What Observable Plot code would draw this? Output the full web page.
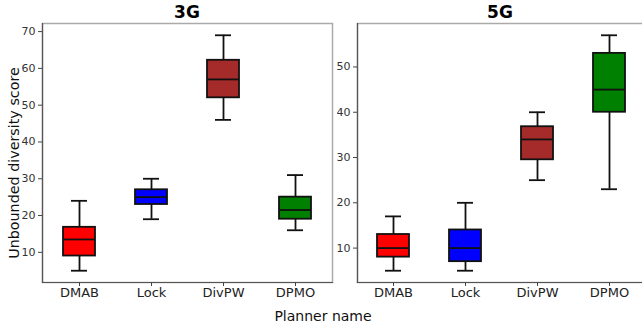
<!DOCTYPE html>
<html>
<head>
<meta charset="utf-8">
<script src="https://cdn.jsdelivr.net/npm/d3@7"></script>
<script src="https://cdn.jsdelivr.net/npm/@observablehq/plot@0.6"></script>
<style>
  html, body { margin: 0; padding: 0; background: #fff; }
  #wrap { position: relative; width: 642px; height: 331px; overflow: hidden; font-family: "DejaVu Sans", sans-serif; background: #fff; }
  .plot { position: absolute; top: 0; }
  .title { position: absolute; top: 2px; font-weight: bold; font-size: 17px; color: #000; transform: translateX(-50%); }
  .xlabel { position: absolute; top: 308px; left: 323px; font-size: 14px; transform: translateX(-50%); color: #111; }
  .ylabel { position: absolute; left: 14px; top: 163px; font-size: 14.3px; color: #111; transform: translate(-50%, -50%) rotate(-90deg); white-space: nowrap; }
</style>
</head>
<body>
<div id="wrap">
  <div class="title" style="left:187px">3G</div>
  <div class="title" style="left:500px">5G</div>
  <div class="xlabel">Planner name</div>
  <div class="ylabel">Unbounded diversity score</div>
</div>
<script>
const planners = ["DMAB", "Lock", "DivPW", "DPMO"];
const boxColors = ["#ff0000", "#0000ff", "#a52a2a", "#008000"];

// 3G statistics
const g3Min = [5, 19, 46, 16];
const g3Q1 = [9, 23, 52, 19];
const g3Med = [13.5, 25, 57, 21.5];
const g3Q3 = [16.8, 27, 62.2, 25];
const g3Max = [24, 30, 69, 31];
const g3Ticks = [10, 20, 30, 40, 50, 60, 70];
const g3Domain = [1.8, 72.2];

// 5G statistics
const g5Min = [5, 5, 25, 23];
const g5Q1 = [8, 7, 29.5, 40];
const g5Med = [10, 10, 34, 45];
const g5Q3 = [13, 14, 36.8, 53];
const g5Max = [17, 20, 40, 57];
const g5Ticks = [10, 20, 30, 40, 50];
const g5Domain = [2.4, 59.6];

function rows(mn, q1, md, q3, mx) {
  return planners.map((p, i) => ({planner: p, color: boxColors[i], min: mn[i], q1: q1[i], med: md[i], q3: q3[i], max: mx[i]}));
}

function panel(data, ticks, domain, width, marginLeft, marginRight) {
  return Plot.plot({
    width, height: 331,
    marginTop: 23, marginBottom: 49, marginLeft, marginRight,
    style: {fontFamily: "DejaVu Sans, sans-serif", fontSize: "11px", color: "#333", background: "transparent"},
    x: {domain: planners, paddingInner: 0.55, paddingOuter: 0.275, label: null, tickSize: 4},
    y: {domain, ticks, label: null, tickSize: 4},
    marks: [
      Plot.frame({stroke: "#aaa", strokeWidth: 1.5}),
      Plot.frame({anchor: "left", stroke: "#555", strokeWidth: 1.2}),
      Plot.frame({anchor: "bottom", stroke: "#555", strokeWidth: 1.2}),
      Plot.axisX({tickSize: 4, tickPadding: 1, fontSize: 13, color: "#222", stroke: "#444"}),
      Plot.axisY({ticks, tickSize: 4, tickPadding: 3, fontSize: 11, color: "#333", stroke: "#444"}),
      Plot.ruleX(data, {x: "planner", y1: "min", y2: "q1", stroke: "#111", strokeWidth: 1.8}),
      Plot.ruleX(data, {x: "planner", y1: "q3", y2: "max", stroke: "#111", strokeWidth: 1.8}),
      Plot.tickY(data, {x: "planner", y: "min", stroke: "#111", strokeWidth: 1.8, insetLeft: 8, insetRight: 8}),
      Plot.tickY(data, {x: "planner", y: "max", stroke: "#111", strokeWidth: 1.8, insetLeft: 8, insetRight: 8}),
      Plot.barY(data, {x: "planner", y1: "q1", y2: "q3", fill: "color", stroke: "#111", strokeWidth: 1.8}),
      Plot.tickY(data, {x: "planner", y: "med", stroke: "#111", strokeWidth: 1.8})
    ]
  });
}

const wrap = document.getElementById("wrap");
const p1 = panel(rows(g3Min, g3Q1, g3Med, g3Q3, g3Max), g3Ticks, g3Domain, 337, 42, 5);
p1.classList.add("plot"); p1.style.left = "0px";
const p2 = panel(rows(g5Min, g5Q1, g5Med, g5Q3, g5Max), g5Ticks, g5Domain, 320, 20, 11);
p2.classList.add("plot"); p2.style.left = "337px";
wrap.prepend(p2);
wrap.prepend(p1);
</script>
</body>
</html>
